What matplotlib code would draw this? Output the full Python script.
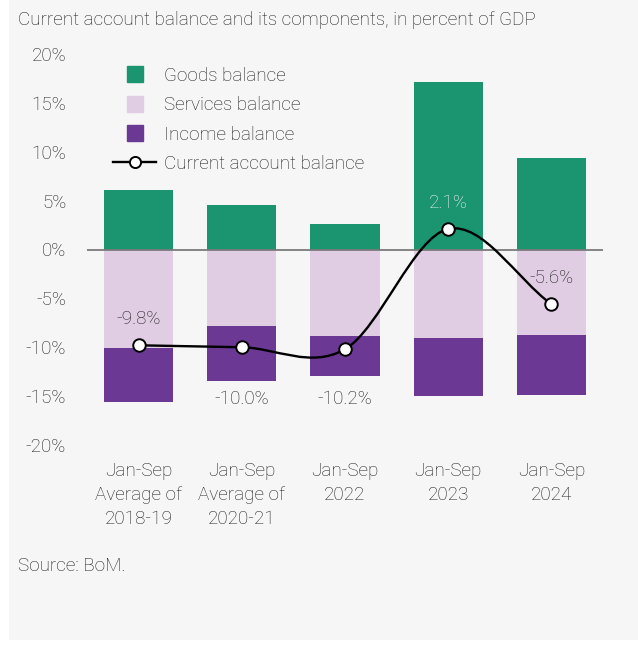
import matplotlib
matplotlib.use("Agg")
import matplotlib.pyplot as plt
from matplotlib.path import Path
from matplotlib.patches import PathPatch, Rectangle
from matplotlib.lines import Line2D
import numpy as np

plt.rcParams['font.family'] = ['Roboto', 'DejaVu Sans']
plt.rcParams['font.weight'] = 'light'

categories = ["Jan-Sep\nAverage of\n2018-19", "Jan-Sep\nAverage of\n2020-21",
              "Jan-Sep\n2022", "Jan-Sep\n2023", "Jan-Sep\n2024"]
goods = [6.1, 4.6, 2.6, 17.1, 9.35]
services = [-10.05, -7.8, -8.85, -9.05, -8.75]
income = [-5.6, -5.65, -4.1, -5.95, -6.15]
current_account = [-9.8, -10.0, -10.2, 2.1, -5.6]
ca_labels = ["-9.8%", "-10.0%", "-10.2%", "2.1%", "-5.6%"]
label_place = ["above", "below", "below", "above", "above"]
yticks = [20, 15, 10, 5, 0, -5, -10, -15, -20]

C_GOODS = "#1b9470"
C_SERV = "#e0cce3"
C_INC = "#6b3893"
TXT = "#1e1e1e"
BG = "#f6f6f6"
FS = 13.6

W, H = 638, 648
fig = plt.figure(figsize=(W / 100, H / 100), dpi=100, facecolor="white")
fig.patches.append(Rectangle((9 / W, 8 / H), 1 - 9 / W, 1 - 8 / H, transform=fig.transFigure,
                             facecolor=BG, edgecolor="none", zorder=-10))

ax = fig.add_axes([87 / W, 203 / H, 516 / W, 391 / H])
ax.set_facecolor("none")
x = np.arange(len(categories))
bw = 0.67
ax.bar(x, goods, bw, color=C_GOODS, zorder=2)
ax.bar(x, services, bw, color=C_SERV, zorder=2)
ax.bar(x, income, bw, bottom=services, color=C_INC, zorder=2)
ax.axhline(0, color="#7a7a7a", lw=1.3, zorder=3)

# smooth Catmull-Rom curve through the current account values
y = np.array(current_account, dtype=float)
n = len(y)
tang = np.zeros(n)
for i in range(n):
    if i == 0:
        tang[i] = y[1] - y[0]
    elif i == n - 1:
        tang[i] = y[-1] - y[-2]
    else:
        tang[i] = (y[i + 1] - y[i - 1]) / 2
verts = [(x[0], y[0])]
codes = [Path.MOVETO]
for i in range(n - 1):
    verts += [(x[i] + 1 / 3, y[i] + tang[i] / 3),
              (x[i + 1] - 1 / 3, y[i + 1] - tang[i + 1] / 3),
              (x[i + 1], y[i + 1])]
    codes += [Path.CURVE4] * 3
ax.add_patch(PathPatch(Path(verts, codes), facecolor="none", edgecolor="black", lw=1.7, zorder=4))
ax.plot(x, y, ls="none", marker="o", ms=9, mfc="white", mec="black", mew=1.4, zorder=5)

for xi, yi, lab, pl in zip(x, y, ca_labels, label_place):
    if pl == "above":
        col = "#f2f2f2" if yi > 0 else TXT
        ax.annotate(lab, (xi, yi), xytext=(0, 19), textcoords="offset points",
                    ha="center", va="center", fontsize=FS, color=col, zorder=6)
    else:
        ax.text(xi, -15.25, lab, ha="center", va="center", fontsize=FS, color=TXT, zorder=6)

ax.set_xlim(-0.5, len(categories) - 0.5)
ax.set_ylim(-20, 20)
ax.set_yticks(yticks)
ax.set_yticklabels([f"{t}%" for t in yticks])
ax.set_xticks(x)
ax.set_xticklabels(categories, linespacing=1.45)
ax.tick_params(axis="y", length=0, pad=15, labelsize=FS, labelcolor=TXT)
ax.tick_params(axis="x", length=0, pad=12, labelsize=FS, labelcolor=TXT)
for s in ax.spines.values():
    s.set_visible(False)

handles = [
    Line2D([], [], ls="none", marker="s", ms=11.5, color=C_GOODS),
    Line2D([], [], ls="none", marker="s", ms=11.5, color=C_SERV),
    Line2D([], [], ls="none", marker="s", ms=11.5, color=C_INC),
    Line2D([], [], color="black", lw=1.7, marker="o", ms=8, mfc="white", mec="black", mew=1.4),
]
labels = ["Goods balance", "Services balance", "Income balance", "Current account balance"]
leg = fig.legend(handles, labels, loc="upper left", bbox_to_anchor=(113 / W, 1 - 67 / H),
                 frameon=False, fontsize=FS, handlelength=2.3, handletextpad=0.42,
                 labelspacing=0.6, borderaxespad=0, borderpad=0)
for t in leg.get_texts():
    t.set_color(TXT)

fig.text(18 / W, 1 - 20 / H, "Current account balance and its components, in percent of GDP",
         ha="left", va="center", fontsize=FS, color=TXT)
fig.text(18 / W, 1 - 566 / H, "Source: BoM.", ha="left", va="center", fontsize=FS, color=TXT)

fig.savefig("out.png", dpi=100, facecolor="white")
